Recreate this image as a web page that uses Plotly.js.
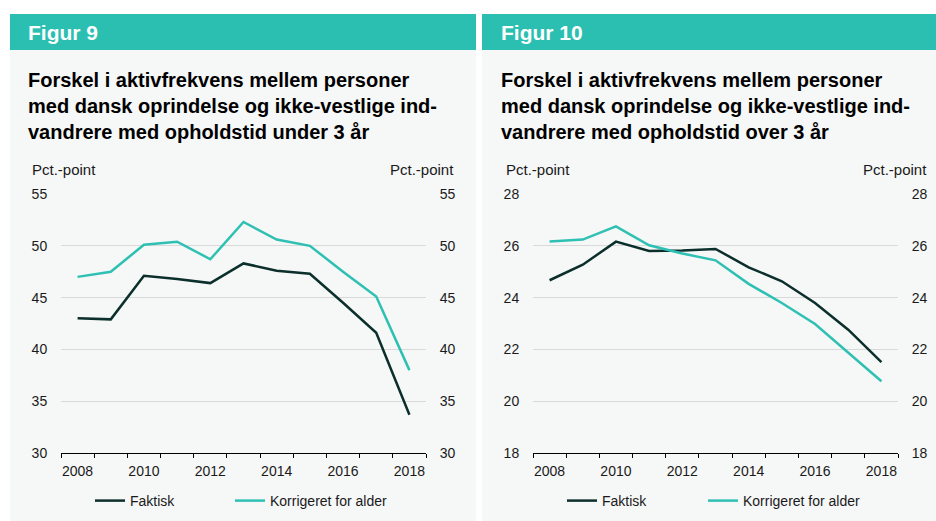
<!DOCTYPE html>
<html><head><meta charset="utf-8">
<script src="https://cdn.plot.ly/plotly-3.0.1.min.js"></script>
<style>html,body{margin:0;padding:0;background:#fff}</style>
</head><body>
<div id="chart" style="width:936px;height:521px"></div>
<script>
// ---- data ----
const years = [2008, 2009, 2010, 2011, 2012, 2013, 2014, 2015, 2016, 2017, 2018];
const yearTicks = [2008, 2010, 2012, 2014, 2016, 2018];
const seriesNames = ['Faktisk', 'Korrigeret for alder'];
const fig9Faktisk = [43.0, 42.9, 47.1, 46.8, 46.4, 48.3, 47.6, 47.3, 44.5, 41.6, 33.7];
const fig9Korrigeret = [47.0, 47.5, 50.1, 50.4, 48.7, 52.3, 50.6, 50.0, 47.5, 45.1, 38.0];
const fig10Faktisk = [24.67, 25.27, 26.16, 25.80, 25.82, 25.88, 25.17, 24.63, 23.79, 22.76, 21.51];
const fig10Korrigeret = [26.17, 26.24, 26.75, 26.02, 25.70, 25.44, 24.53, 23.79, 22.98, 21.89, 20.77];
const fig9Range = [30, 55];
const fig10Range = [18, 28];
const headers = ['Figur 9', 'Figur 10'];
const titles9 = ['Forskel i aktivfrekvens mellem personer', 'med dansk oprindelse og ikke-vestlige ind-', 'vandrere med opholdstid under 3 år'];
const titles10 = ['Forskel i aktivfrekvens mellem personer', 'med dansk oprindelse og ikke-vestlige ind-', 'vandrere med opholdstid over 3 år'];
const unitLabel = 'Pct.-point';

// ---- style ----
const W = 936, H = 521;
const px = x => x / W;
const py = y => 1 - y / H;
const DARK = '#0b2f2b';
const TEAL = '#2ec0b2';
const HEAD = '#2bbfb1';
const PANEL = '#f6f7f7';
const GRID = '#d9d9d9';
const TXT = '#1a1a1a';
const FONT = 'Liberation Sans, Arial, sans-serif';

const yDom = [py(453), py(194)];

function xAxis(domain) {
  return {
    domain: domain, range: [2007.5, 2018.5], type: 'linear',
    tickmode: 'array', tickvals: yearTicks, ticks: 'outside', ticklen: 5, tickcolor: 'rgba(0,0,0,0)',
    showgrid: false, zeroline: false, showline: true, linecolor: '#000', linewidth: 1,
    tickfont: {size: 14, color: TXT, family: FONT},
    minor: {tick0: 2007.5, dtick: 1, ticks: 'outside', ticklen: 4, tickcolor: '#000', tickwidth: 1, showgrid: false},
    fixedrange: true
  };
}
function yAxis(range, dtick, anchor, side, overlay) {
  const a = {
    domain: yDom, range: range, dtick: dtick, tick0: range[0], anchor: anchor, side: side,
    ticks: 'outside', ticklen: 10, tickcolor: 'rgba(0,0,0,0)',
    showgrid: !overlay, gridcolor: GRID, gridwidth: 1, zeroline: false, showline: false,
    tickfont: {size: 14, color: TXT, family: FONT}, fixedrange: true
  };
  if (overlay) a.overlaying = overlay;
  return a;
}

const traces = [
  {x: years, y: fig9Faktisk, name: seriesNames[0], xaxis: 'x', yaxis: 'y', legend: 'legend', mode: 'lines', line: {color: DARK, width: 2.5}},
  {x: years, y: fig9Korrigeret, name: seriesNames[1], xaxis: 'x', yaxis: 'y', legend: 'legend2', mode: 'lines', line: {color: TEAL, width: 2.5}},
  {x: years, y: fig10Faktisk, name: seriesNames[0], xaxis: 'x2', yaxis: 'y2', legend: 'legend3', mode: 'lines', line: {color: DARK, width: 2.5}},
  {x: years, y: fig10Korrigeret, name: seriesNames[1], xaxis: 'x2', yaxis: 'y2', legend: 'legend4', mode: 'lines', line: {color: TEAL, width: 2.5}},
  {x: years, y: fig9Faktisk, xaxis: 'x', yaxis: 'y3', mode: 'lines', opacity: 0, showlegend: false, hoverinfo: 'skip'},
  {x: years, y: fig10Faktisk, xaxis: 'x2', yaxis: 'y4', mode: 'lines', opacity: 0, showlegend: false, hoverinfo: 'skip'}
];

const shapes = [
  {type: 'rect', xref: 'paper', yref: 'paper', x0: px(10), x1: px(476), y0: 0, y1: py(14), fillcolor: PANEL, line: {width: 0}, layer: 'below'},
  {type: 'rect', xref: 'paper', yref: 'paper', x0: px(482), x1: 1, y0: 0, y1: py(14), fillcolor: PANEL, line: {width: 0}, layer: 'below'},
  {type: 'rect', xref: 'paper', yref: 'paper', x0: px(10), x1: px(476), y0: py(50), y1: py(14), fillcolor: HEAD, line: {width: 0}, layer: 'below'},
  {type: 'rect', xref: 'paper', yref: 'paper', x0: px(482), x1: 1, y0: py(50), y1: py(14), fillcolor: HEAD, line: {width: 0}, layer: 'below'}
];

const ann = [];
function addText(text, x, y, opts) {
  ann.push(Object.assign({text: text, xref: 'paper', yref: 'paper', x: px(x), y: py(y), showarrow: false,
    xanchor: 'left', yanchor: 'middle', font: {size: 15, color: TXT, family: FONT}}, opts || {}));
}
addText(headers[0], 26, 32, {font: {size: 21, color: '#fff', family: FONT, weight: 'bold'}});
addText(headers[1], 499, 32, {font: {size: 21, color: '#fff', family: FONT, weight: 'bold'}});
const lineY = [80, 106, 132];
titles9.forEach((t, i) => addText('<b>' + t + '</b>', 26, lineY[i], {font: {size: 20, color: '#000', family: FONT}}));
titles10.forEach((t, i) => addText('<b>' + t + '</b>', 499, lineY[i], {font: {size: 20, color: '#000', family: FONT}}));
addText(unitLabel, 30, 169);
addText(unitLabel, 456, 169, {xanchor: 'right'});
addText(unitLabel, 504, 169);
addText(unitLabel, 929, 169, {xanchor: 'right'});

function legendCfg(x) {
  return {orientation: 'h', x: px(x), xanchor: 'left', y: py(501), yanchor: 'middle',
    bgcolor: 'rgba(0,0,0,0)', font: {size: 14, color: TXT, family: FONT}, itemwidth: 30};
}

const layout = {
  width: W, height: H, margin: {l: 0, r: 0, t: 0, b: 0},
  paper_bgcolor: '#fff', plot_bgcolor: 'rgba(0,0,0,0)',
  xaxis: xAxis([px(61), px(426)]),
  xaxis2: xAxis([px(533), px(898)]),
  yaxis: yAxis(fig9Range, 5, 'x', 'left'),
  yaxis2: yAxis(fig10Range, 2, 'x2', 'left'),
  yaxis3: yAxis(fig9Range, 5, 'x', 'right', 'y'),
  yaxis4: yAxis(fig10Range, 2, 'x2', 'right', 'y2'),
  legend: legendCfg(90),
  legend2: legendCfg(230),
  legend3: legendCfg(562),
  legend4: legendCfg(703),
  shapes: shapes, annotations: ann, showlegend: true,
  font: {family: FONT}
};

Plotly.newPlot('chart', traces, layout, {displayModeBar: false, staticPlot: true});
</script>
</body></html>
